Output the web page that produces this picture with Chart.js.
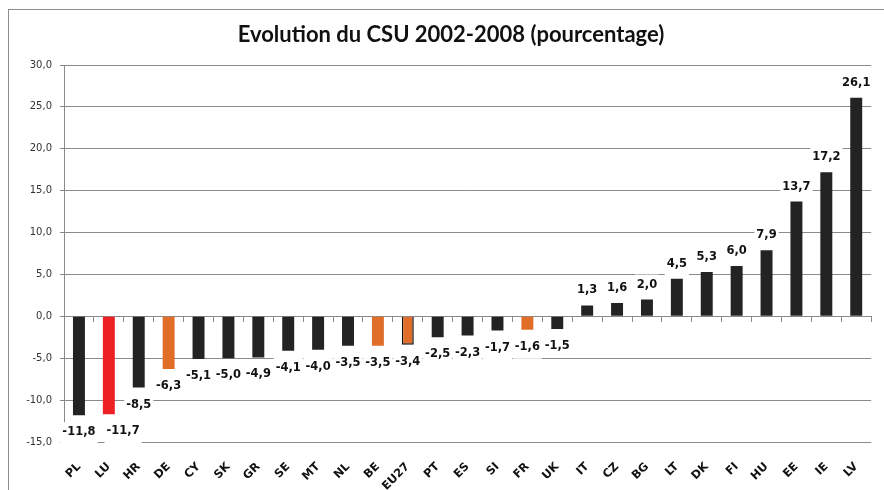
<!DOCTYPE html>
<html>
<head>
<meta charset="utf-8">
<script src="https://cdn.jsdelivr.net/npm/chart.js@4.4.1/dist/chart.umd.min.js"></script>
<style>
  html, body { margin: 0; padding: 0; background: #fff; overflow: hidden; }
  #cadre { position: absolute; left: 8px; top: 9px; width: 2000px; height: 2000px;
           border-left: 1px solid #8c8c8c; border-top: 1px solid #8c8c8c; }
  #zone { position: absolute; left: 0; top: 0; width: 884px; height: 490px; }
</style>
</head>
<body>
<div id="cadre"></div>
<div id="zone"><canvas id="csuChart"></canvas></div>
<script>
var titre = "Evolution du CSU 2002-2008 (pourcentage)";
var pays = ["PL", "LU", "HR", "DE", "CY", "SK", "GR", "SE", "MT", "NL", "BE", "EU27", "PT", "ES",
            "SI", "FR", "UK", "IT", "CZ", "BG", "LT", "DK", "FI", "HU", "EE", "IE", "LV"];
var evolution = [-11.8, -11.7, -8.5, -6.3, -5.1, -5.0, -4.9, -4.1, -4.0, -3.5, -3.5, -3.4, -2.5, -2.3,
                 -1.7, -1.6, -1.5, 1.3, 1.6, 2.0, 4.5, 5.3, 6.0, 7.9, 13.7, 17.2, 26.1];
var graduations = [-15, -10, -5, 0, 5, 10, 15, 20, 25, 30];

// couleurs des pays mis en avant
var couleurs = { LU: "#ed2024", DE: "#e06e28", BE: "#e06e28", EU27: "#e06e28", FR: "#e06e28" };
var noir = "#232323";

function virgule(v) {
  return Number(v).toFixed(1).replace(".", ",");
}

// titre centre un peu a droite, comme dans l'original
var titrePlugin = {
  id: "titre",
  afterDraw: function(chart) {
    var ctx = chart.ctx;
    ctx.save();
    ctx.font = "bold 22px Lato, sans-serif";
    ctx.fillStyle = "#111";
    ctx.textAlign = "center";
    ctx.textBaseline = "middle";
    ctx.fillText(titre, 451, 35);
    ctx.restore();
  }
};

// etiquettes de valeurs avec fond blanc (comme dans Excel)
var etiquettes = {
  id: "etiquettes",
  afterDatasetsDraw: function(chart) {
    var ctx = chart.ctx;
    var meta = chart.getDatasetMeta(0);
    var prec = null;
    ctx.save();
    ctx.font = "bold 11.5px 'DejaVu Sans', sans-serif";
    ctx.textAlign = "center";
    ctx.textBaseline = "middle";
    meta.data.forEach(function(bar, i) {
      var v = evolution[i];
      var txt = virgule(v);
      var cy = v < 0 ? bar.y + 17 : bar.y - 15;
      var w = ctx.measureText(txt).width + 4;
      var cx = bar.x;
      // decalage seulement si les textes se chevauchent
      if (prec && Math.abs(prec.cy - cy) < 14 && cx - w / 2 < prec.droite) {
        cx = prec.droite + 7 + w / 2;
      }
      ctx.fillStyle = "#fff";
      ctx.fillRect(cx - w / 2, cy - 10, w, 22);
      ctx.fillStyle = "#111";
      ctx.fillText(txt, cx, cy);
      prec = { cy: cy, droite: cx + w / 2 };
    });
    ctx.restore();
  }
};

var ctx = document.getElementById("csuChart").getContext("2d");
var csuChart = new Chart(ctx, {
  type: "bar",
  data: {
    labels: pays,
    datasets: [{
      data: evolution,
      backgroundColor: pays.map(function(p) { return couleurs[p] || noir; }),
      borderColor: pays.map(function(p) { return p === "EU27" ? "#111" : "rgba(0,0,0,0)"; }),
      borderWidth: pays.map(function(p) { return p === "EU27" ? 1.5 : 0; }),
      barPercentage: 0.4,
      categoryPercentage: 1
    }]
  },
  options: {
    responsive: true,
    maintainAspectRatio: false,
    animation: false,
    layout: { padding: { left: 0, right: 1, top: 65, bottom: 0 } },
    plugins: {
      legend: { display: false },
      tooltip: { enabled: false },
      title: { display: false }
    },
    scales: {
      x: {
        grid: { display: false, drawTicks: false },
        border: { display: false },
        ticks: {
          autoSkip: false,
          minRotation: 45,
          maxRotation: 45,
          padding: 18,
          color: "#111",
          font: { family: "DejaVu Sans", size: 11.5, weight: "bold" }
        },
        afterFit: function(s) { s.height = 48; }
      },
      x0: {
        type: "category",
        position: { y: 0 },
        offset: true,
        grid: { offset: true, drawOnChartArea: false, drawTicks: true, tickLength: 5, color: "#8a8a8a" },
        border: { color: "#8a8a8a" },
        ticks: { display: false }
      },
      y: {
        min: -15,
        max: 30,
        afterBuildTicks: function(s) {
          s.ticks = graduations.map(function(v) { return { value: v }; });
        },
        grid: { color: "#8a8a8a", tickLength: 4 },
        border: { color: "#8a8a8a" },
        ticks: {
          padding: 8,
          color: "#333",
          font: { family: "DejaVu Sans", size: 10 },
          callback: function(v) { return virgule(v); }
        },
        afterFit: function(s) { s.width = 64; }
      }
    }
  },
  plugins: [etiquettes, titrePlugin]
});
</script>
</body>
</html>
